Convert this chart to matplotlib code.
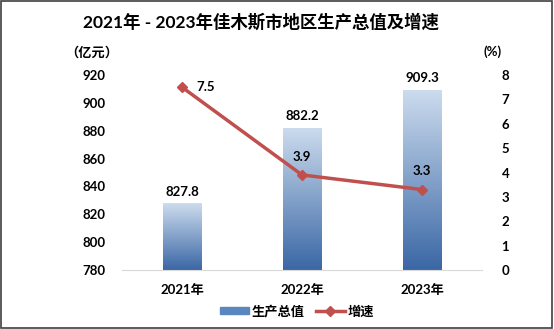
import numpy as np
import matplotlib.pyplot as plt
from matplotlib.patches import Rectangle
from matplotlib.lines import Line2D
from matplotlib.colors import LinearSegmentedColormap

plt.rcParams['font.family'] = ['Lato', 'Noto Sans CJK SC', 'DejaVu Sans']
plt.rcParams['font.weight'] = 'bold'

years = ['2021年', '2022年', '2023年']
gdp = [827.8, 882.2, 909.3]
growth = [7.5, 3.9, 3.3]

fig = plt.figure(figsize=(5.54, 3.29), dpi=100)
ax = fig.add_axes([122 / 554, 1 - 270 / 329, 360 / 554, 195 / 329])
ax2 = ax.twinx()

cmap = LinearSegmentedColormap.from_list('bar', ['#3a67a5', '#cddcee'])
grad = np.linspace(0, 1, 256).reshape(-1, 1)
w = 0.32
for i, v in enumerate(gdp):
    bar = ax.bar(i, v - 780, bottom=780, width=w, color='none', zorder=2)[0]
    im = ax.imshow(grad, cmap=cmap, aspect='auto', origin='lower',
                   extent=[i - w / 2, i + w / 2, 780, v], zorder=2)
    im.set_clip_path(bar)
    ax.text(i, v + 4, f'{v:.1f}', ha='center', va='bottom', fontsize=9.5)

ax.set_xlim(-0.5, 2.5)
ax.set_ylim(780, 920)
ax2.set_ylim(0, 8)

x = np.arange(len(growth))
ax2.plot(x, growth, color='#c0504d', lw=2.5, marker='D', ms=5, zorder=3)
ax2.text(x[0] + 0.12, growth[0], f'{growth[0]}', ha='left', va='center', fontsize=9.5)
for i in (1, 2):
    ax2.text(x[i], growth[i] + 0.5, f'{growth[i]}', ha='center', va='bottom', fontsize=9.5)

for a in (ax, ax2):
    for s in a.spines.values():
        s.set_visible(False)
    a.tick_params(length=0, labelsize=9.5)
ax.spines['bottom'].set_visible(True)
ax.spines['bottom'].set_color('#d9d9d9')
ax.set_xticks(x)
ax.set_xticklabels(years)
ax.tick_params(axis='x', pad=10)
ax.tick_params(axis='y', pad=12)
ax2.tick_params(axis='y', pad=14)
ax.set_yticks(range(780, 921, 20))
ax2.set_yticks(range(0, 9))

fig.text(261 / 554, 1 - 22 / 329, '2021年 - 2023年佳木斯市地区生产总值及增速',
         ha='center', va='center', fontsize=12.5)
fig.text(92 / 554, 1 - 53 / 329, '（亿元）', ha='center', va='center', fontsize=9.5,
         family=['Noto Sans CJK SC'])
fig.text(493 / 554, 1 - 52 / 329, '(%)', ha='center', va='center', fontsize=9.5)

handles = [Rectangle((0, 0), 1, 1, color='#5b87c0'),
           Line2D([0], [0], color='#c0504d', lw=2.5, marker='D', ms=5)]
fig.legend(handles, ['生产总值', '增速'], loc='center', ncol=2,
           bbox_to_anchor=(297 / 554, 1 - 311 / 329), frameon=False,
           fontsize=9.5, handlelength=2.2, handleheight=0.4, columnspacing=0.8,
           handletextpad=0.2)

fig.patches.append(Rectangle((0.002, 0.003), 0.995, 0.994, transform=fig.transFigure,
                             fill=False, edgecolor='#404040', lw=1.2))

fig.savefig('out.png', dpi=100)
